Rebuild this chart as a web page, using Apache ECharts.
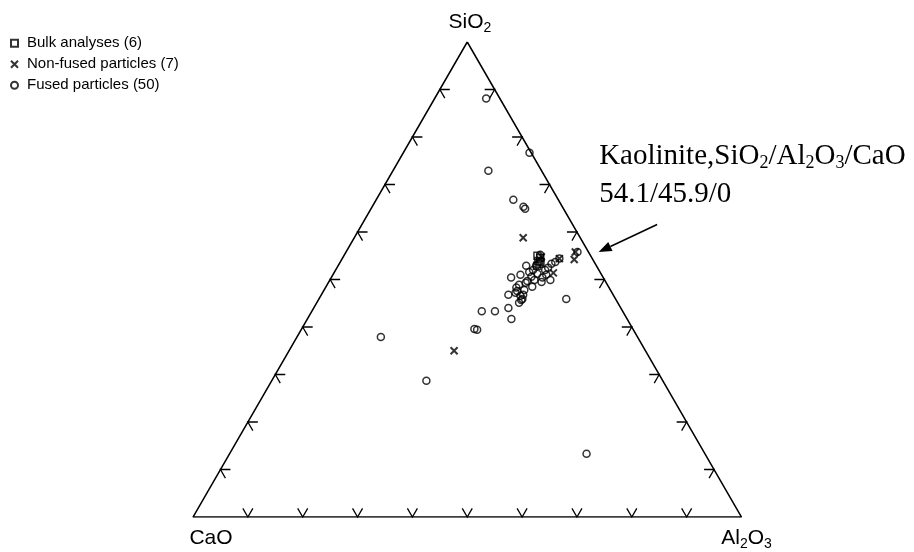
<!DOCTYPE html>
<html><head><meta charset="utf-8">
<script src="https://cdn.jsdelivr.net/npm/echarts@6/dist/echarts.min.js"></script>
<style>html,body{margin:0;padding:0;background:#fff}#c{width:914px;height:552px}</style>
</head><body><div id="c"></div>
<script>
// Compositions in wt%: [SiO2, Al2O3, CaO]
const bulkAnalyses = [
  [55.0,35.3,9.7],[54.6,36.0,9.4],[53.9,36.0,10.1],[53.3,36.5,10.2],[52.9,36.3,10.8],[53.7,36.5,9.8]
];
const nonFusedParticles = [
  [58.8,30.8,10.4],[35.0,30.1,34.9],[51.4,40.0,8.6],[54.4,39.6,6.0],[55.8,41.8,2.4],[54.2,42.4,3.4],[54.8,36.1,9.1]
];
const fusedParticles = [
  [88.1,9.4,2.5],[76.7,23.0,0.3],[72.9,17.4,9.7],[66.8,25.0,8.2],[65.3,27.6,7.1],
  [64.9,28.1,7.0],[37.9,15.3,46.8],[28.7,28.2,43.1],[39.6,31.5,28.9],[39.4,32.1,28.5],
  [43.3,31.0,25.7],[43.3,33.4,23.3],[13.3,65.1,21.6],[45.9,45.1,9.0],[41.7,37.2,21.1],
  [44.0,35.5,20.5],[45.1,36.9,18.0],[46.8,34.1,19.1],[45.9,37.1,17.0],[46.8,36.8,16.4],
  [47.6,35.3,17.1],[48.9,35.0,16.1],[50.4,32.8,16.8],[51.0,34.2,14.8],[49.7,36.1,14.2],
  [49.9,37.3,12.8],[50.4,38.5,11.1],[49.9,40.2,9.9],[51.2,37.2,11.6],[52.9,34.3,12.8],
  [53.3,38.7,8.0],[55.2,35.7,9.1],[54.4,39.6,6.0],[55.8,42.2,2.0],[52.0,38.2,9.8],
  [48.5,37.6,13.9],[50.6,36.4,13.0],[47.8,36.5,15.7],[46.6,36.4,17.0],[52.9,36.1,11.0],
  [53.7,39.2,7.1],[51.6,35.5,12.9],[45.7,37.0,17.3],[49.5,38.8,11.7],[51.0,38.9,10.1],
  [52.0,36.0,12.0],[48.3,34.8,16.9],[49.3,36.0,14.7],[47.2,35.2,17.6],[52.5,38.5,9.0]
];
const kaolinite = [54.1, 45.9, 0];
const kaoliniteLines = ['Kaolinite,SiO{s|2}/Al{s|2}O{s|3}/CaO', '54.1/45.9/0'];
const seriesNames = ['Bulk analyses (6)', 'Non-fused particles (7)', 'Fused particles (50)'];
const vertexLabels = ['SiO{s|2}', 'CaO', 'Al{s|2}O{s|3}'];
const vertexComps = [[100,0,0],[0,0,100],[0,100,0]];
const tickValues = [10,20,30,40,50,60,70,80,90];

const H = Math.sqrt(3) / 2;
function toXY(c) {
  const t = c[0] + c[1] + c[2];
  return [(c[1] + c[0] / 2) / t, c[0] / t * H];
}

const outline = [0,1,2,0].map(i => toXY(vertexComps[i]));
const tickData = [];
tickValues.forEach(v => {
  tickData.push(toXY([v, 0, 100 - v]).concat(0));   // CaO-SiO2 edge
  tickData.push(toXY([0, v, 100 - v]).concat(1));   // CaO-Al2O3 edge
  tickData.push(toXY([v, 100 - v, 0]).concat(2));   // SiO2-Al2O3 edge
});
const vertexData = vertexComps.map((c, i) => toXY(c).concat(i));

const sansFont = '"Liberation Sans", Arial, Helvetica, sans-serif';
const serifFont = '"Liberation Serif", "Times New Roman", serif';

const chart = echarts.init(document.getElementById('c'));
const hollow = { color: 'rgba(0,0,0,0)', borderColor: '#000', borderWidth: 1.5 };

chart.setOption({
  animation: false,
  backgroundColor: '#fff',
  grid: { left: 193, top: 42, width: 548.5, height: 475 },
  xAxis: { type: 'value', min: 0, max: 1, show: false },
  yAxis: { type: 'value', min: 0, max: H, show: false },
  legend: {
    orient: 'vertical', left: 5, top: 28,
    itemWidth: 7, itemHeight: 7, itemGap: 0.5,
    data: seriesNames,
    textStyle: { fontFamily: sansFont, fontSize: 15, color: '#000', lineHeight: 20.5, padding: [0,0,0,4] }
  },
  series: [
    {
      type: 'line', data: outline, symbol: 'none', silent: true, z: 1,
      lineStyle: { color: '#000', width: 1.5 }
    },
    {
      type: 'custom', data: tickData, silent: true, z: 1,
      renderItem: function (params, api) {
        const p = api.coord([api.value(0), api.value(1)]);
        const e = api.value(2);
        const L = 10;
        const arms = [
          [[L, 0], [L / 2, L * 0.866]],
          [[-L / 2, -L * 0.866], [L / 2, -L * 0.866]],
          [[-L, 0], [-L / 2, L * 0.866]]
        ][e];
        return {
          type: 'polyline',
          shape: { points: [[p[0] + arms[0][0], p[1] + arms[0][1]], p, [p[0] + arms[1][0], p[1] + arms[1][1]]] },
          style: { stroke: '#000', lineWidth: 1.3, fill: 'none' }
        };
      }
    },
    {
      type: 'custom', data: vertexData, silent: true, z: 3,
      renderItem: function (params, api) {
        const p = api.coord([api.value(0), api.value(1)]);
        const i = api.value(2);
        const off = [[2.7, -20], [18, 21], [5, 21]][i];
        return {
          type: 'text', x: p[0] + off[0], y: p[1] + off[1],
          style: {
            text: vertexLabels[i], align: 'center', verticalAlign: 'middle',
            fontFamily: sansFont, fontSize: 21, fill: '#000',
            rich: {
              s: { fontFamily: sansFont, fontSize: 14, lineHeight: 8, verticalAlign: 'bottom', fill: '#000' }
            },
            lineHeight: 26
          }
        };
      }
    },
    {
      name: seriesNames[0], type: 'scatter', symbol: 'rect', symbolSize: 7, z: 5,
      data: bulkAnalyses.map(toXY), itemStyle: hollow, clip: false
    },
    {
      name: seriesNames[1], type: 'scatter', symbol: 'path://M0,0L10,10M10,0L0,10', symbolSize: 7, z: 5,
      data: nonFusedParticles.map(toXY),
      itemStyle: { color: 'rgba(0,0,0,0)', borderColor: '#000', borderWidth: 2 }, clip: false
    },
    {
      name: seriesNames[2], type: 'scatter', symbol: 'circle', symbolSize: 7, z: 5,
      data: fusedParticles.map(toXY), itemStyle: hollow, clip: false
    },
    {
      type: 'custom', data: [toXY(kaolinite)], silent: true, z: 4,
      renderItem: function (params, api) {
        const p = api.coord([api.value(0), api.value(1)]);
        const tip = [p[0] + 5.5, p[1] - 8];
        const tail = [p[0] + 64, p[1] - 35.5];
        const dx = tail[0] - tip[0], dy = tail[1] - tip[1];
        const len = Math.sqrt(dx * dx + dy * dy);
        const ux = dx / len, uy = dy / len;
        const hl = 13, hw = 5;
        const bx = tip[0] + ux * hl, by = tip[1] + uy * hl;
        return {
          type: 'group',
          children: [
            { type: 'line', shape: { x1: tail[0], y1: tail[1], x2: bx, y2: by }, style: { stroke: '#000', lineWidth: 1.5 } },
            { type: 'polygon', shape: { points: [tip, [bx - uy * hw, by + ux * hw], [bx + uy * hw, by - ux * hw]] }, style: { fill: '#000' } },
            {
              type: 'text', x: p[0] + 6, y: p[1] - 104,
              style: {
                text: kaoliniteLines[0], align: 'left', verticalAlign: 'middle',
                fontFamily: serifFont, fontSize: 29, fill: '#000', lineHeight: 32,
                rich: { s: { fontFamily: serifFont, fontSize: 18, lineHeight: 8, verticalAlign: 'bottom', fill: '#000' } }
              }
            },
            {
              type: 'text', x: p[0] + 6, y: p[1] - 66,
              style: { text: kaoliniteLines[1], align: 'left', verticalAlign: 'middle', fontFamily: serifFont, fontSize: 29, fill: '#000' }
            }
          ]
        };
      }
    }
  ]
});
</script>
</body></html>
